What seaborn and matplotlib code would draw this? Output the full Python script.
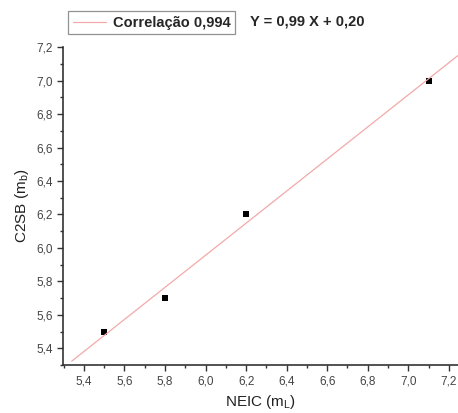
"""Correlation between NEIC and C2SB magnitudes."""

import matplotlib

matplotlib.use("Agg", force=True)

import matplotlib.pyplot as plt
import numpy as np
import pandas as pd
import seaborn as sns
from matplotlib.ticker import FuncFormatter, MultipleLocator

neic = [5.5, 5.8, 6.2, 7.1]
c2sb = [5.5, 5.7, 6.2, 7.0]
legend_label = "Correlação 0,994"
equation_text = "Y = 0,99 X + 0,20"

sns.set_style("ticks")
plt.rcParams["font.family"] = ["Liberation Sans", "DejaVu Sans"]

df = pd.DataFrame({"neic": neic, "c2sb": c2sb})
slope, intercept = np.polyfit(df["neic"], df["c2sb"], 1)
fit_x = np.array([5.34, 7.26])
fit = pd.DataFrame({"x": fit_x, "y": slope * fit_x + intercept})

fig = plt.figure(figsize=(4.58, 4.13), dpi=100)
ax = fig.add_axes([0.1376, 0.116, 0.8624, 0.77])

sns.lineplot(data=fit, x="x", y="y", color="#f3a9a9", linewidth=0.9, ax=ax,
             label=legend_label)
sns.scatterplot(data=df, x="neic", y="c2sb", marker="s", color="black",
                s=24, edgecolor="black", linewidth=0, ax=ax, legend=False)

ax.set_xlim(5.297, 7.245)
ax.set_ylim(5.3, 7.2)
ax.xaxis.set_major_locator(MultipleLocator(0.2))
ax.xaxis.set_minor_locator(MultipleLocator(0.1))
ax.yaxis.set_major_locator(MultipleLocator(0.2))
ax.yaxis.set_minor_locator(MultipleLocator(0.1))
comma = FuncFormatter(lambda v, _: f"{v:.1f}".replace(".", ","))
ax.xaxis.set_major_formatter(comma)
ax.yaxis.set_major_formatter(comma)
ax.tick_params(which="major", length=4, width=1, labelsize=8.5,
               colors="#333333", labelcolor="#444444")
ax.tick_params(which="minor", length=2.5, width=1, colors="#333333")
for side in ("top", "right"):
    ax.spines[side].set_visible(False)
for side in ("left", "bottom"):
    ax.spines[side].set_linewidth(1.2)
    ax.spines[side].set_color("#333333")

ax.set_xlabel(r"NEIC (m$_\mathregular{L}$)", fontsize=11, color="#222222")
ax.set_ylabel(r"C2SB (m$_\mathregular{b}$)", fontsize=11, color="#222222")

leg = ax.legend(loc="lower left", bbox_to_anchor=(0.013, 1.041), frameon=True,
                fancybox=False, handlelength=2.3, handletextpad=0.5,
                borderpad=0.3, borderaxespad=0,
                prop={"weight": "bold", "size": 10.5})
leg.get_frame().set_edgecolor("#777777")
leg.get_frame().set_linewidth(0.9)
ax.text(0.473, 1.079, equation_text, transform=ax.transAxes, fontsize=10.5,
        fontweight="bold", va="center", ha="left")

fig.savefig("out.png", dpi=100)
plt.close(fig)
